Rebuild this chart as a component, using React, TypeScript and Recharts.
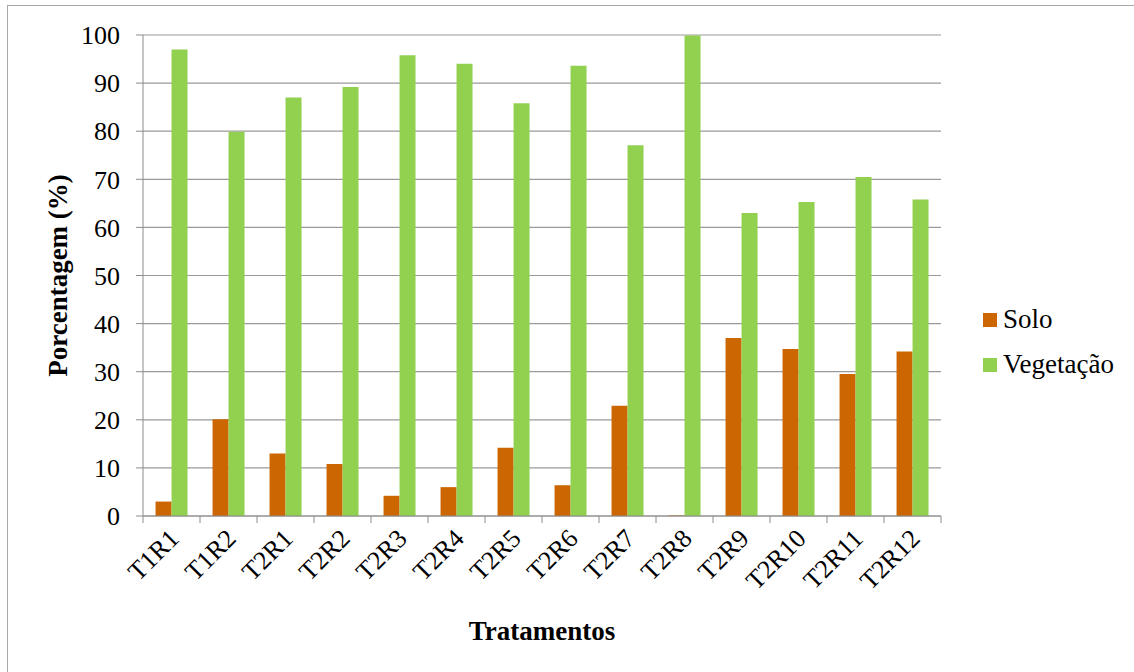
import { BarChart, Bar, XAxis, YAxis, CartesianGrid, Legend, Label } from 'recharts'

const categories = ['T1R1', 'T1R2', 'T2R1', 'T2R2', 'T2R3', 'T2R4', 'T2R5', 'T2R6', 'T2R7', 'T2R8', 'T2R9', 'T2R10', 'T2R11', 'T2R12']
const solo = [3.0, 20.1, 13.0, 10.8, 4.2, 6.0, 14.2, 6.4, 22.9, 0.1, 37.0, 34.7, 29.5, 34.2]
const vegetacao = [97.0, 79.9, 87.0, 89.2, 95.8, 94.0, 85.8, 93.6, 77.1, 99.9, 63.0, 65.3, 70.5, 65.8]
const yTicks = [0, 10, 20, 30, 40, 50, 60, 70, 80, 90, 100]

const data = categories.map((name, i) => ({ name, Solo: solo[i], 'Vegetação': vegetacao[i] }))

const W = 1134
const H = 672
const LEFT = 143
const RIGHT = 941
const TOP = 35
const BOTTOM = 516
const BAND = (RIGHT - LEFT) / categories.length
const FONT = '"Liberation Serif"'
const AXIS = '#8c8c8c'

const XTick = (props: any) => {
  const { x, y, payload, index } = props
  const half = BAND / 2
  const lx = x + 9
  const ly = y + 24
  return (
    <g>
      <line x1={x - half} x2={x - half} y1={y} y2={y + 7} stroke={AXIS} />
      {index === categories.length - 1 && (
        <line x1={x + half} x2={x + half} y1={y} y2={y + 7} stroke={AXIS} />
      )}
      <text
        x={lx}
        y={ly}
        transform={`rotate(-45 ${lx} ${ly})`}
        textAnchor="end"
        fontFamily={FONT}
        fontSize={26}
        fill="#000"
      >
        {payload.value}
      </text>
    </g>
  )
}

const renderLegend = (props: any) => (
  <div style={{ fontFamily: FONT, fontSize: 27, color: '#000' }}>
    {(props.payload || []).map((item: any) => (
      <div key={item.value} style={{ display: 'flex', alignItems: 'center', height: 45 }}>
        <span style={{ width: 14, height: 14, background: item.color, marginRight: 6, display: 'inline-block' }} />
        <span>{item.value}</span>
      </div>
    ))}
  </div>
)

const XTitle = () => (
  <text x={(LEFT + RIGHT) / 2} y={640} textAnchor="middle" fontFamily={FONT} fontSize={27} fontWeight="bold" fill="#000">
    Tratamentos
  </text>
)

const YTitle = () => (
  <text
    x={58}
    y={(TOP + BOTTOM) / 2}
    transform={`rotate(-90 58 ${(TOP + BOTTOM) / 2})`}
    textAnchor="middle"
    dominantBaseline="central"
    fontFamily={FONT}
    fontSize={27}
    fontWeight="bold"
    fill="#000"
  >
    Porcentagem (%)
  </text>
)

export default function App() {
  return (
    <div style={{ position: 'absolute', left: 0, top: 0, width: W, height: H, background: '#fff' }}>
      <div
        style={{
          position: 'absolute',
          left: 7,
          top: 5,
          width: W - 8,
          height: H - 6,
          borderTop: '1px solid #a8a8a8',
          borderLeft: '1px solid #a8a8a8',
        }}
      />
      <BarChart
        width={W}
        height={H}
        data={data}
        margin={{ top: TOP, right: W - RIGHT, bottom: H - BOTTOM - 100, left: LEFT - 60 }}
        barCategoryGap="22%"
        barGap={0}
      >
        <CartesianGrid vertical={false} stroke="#9a9a9a" strokeWidth={1.2} />
        <XAxis
          dataKey="name"
          height={100}
          interval={0}
          tickLine={false}
          tickSize={0}
          tickMargin={0}
          stroke={AXIS}
          tick={<XTick />}
        >
          <Label content={<XTitle />} />
        </XAxis>
        <YAxis
          width={60}
          domain={[0, 100]}
          ticks={yTicks}
          interval={0}
          stroke={AXIS}
          tickSize={7}
          tickMargin={16}
          tick={{ fontFamily: FONT, fontSize: 26, fill: '#000' }}
        >
          <Label content={<YTitle />} />
        </YAxis>
        <Legend
          layout="vertical"
          align="center"
          verticalAlign="middle"
          content={renderLegend}
          wrapperStyle={{ left: 983, top: 297, width: 150 }}
        />
        <Bar dataKey="Solo" fill="#cc6600" isAnimationActive={false} />
        <Bar dataKey="Vegetação" fill="#92d050" isAnimationActive={false} />
      </BarChart>
    </div>
  )
}
